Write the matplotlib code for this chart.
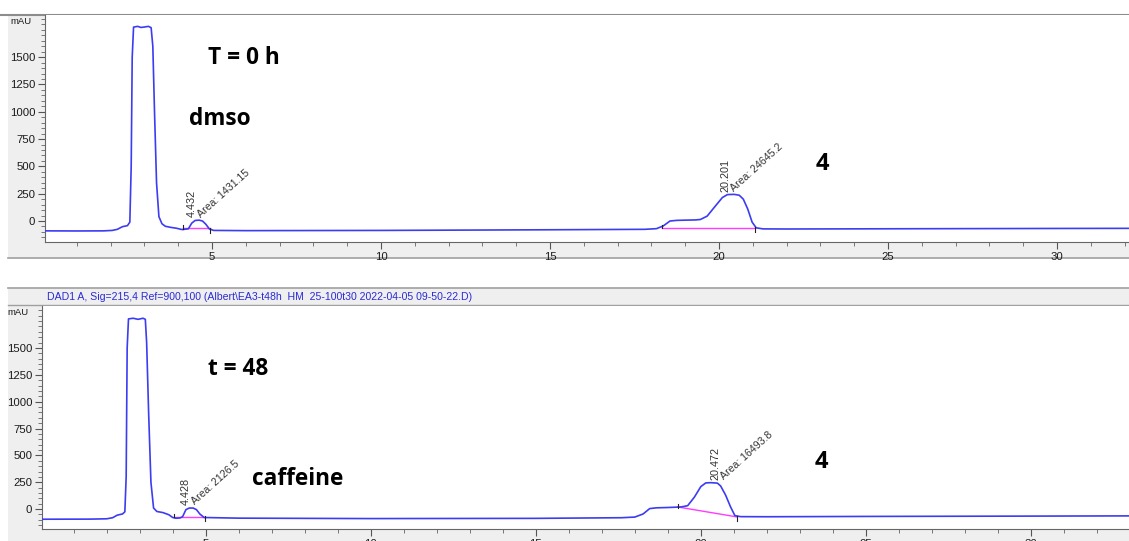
import matplotlib
matplotlib.use("Agg")
import matplotlib.pyplot as plt
from matplotlib.ticker import MultipleLocator, FixedLocator
from matplotlib.patches import Rectangle
from matplotlib.lines import Line2D

# ---------------- data ----------------
# upper run (T = 0 h): retention time [min] and signal [mAU]
top_time = [0.05, 1.0, 1.8, 2.05, 2.2, 2.35, 2.5, 2.57, 2.61, 2.64, 2.68, 2.8, 2.9, 3.0,
            3.12, 3.2, 3.25, 3.3, 3.36, 3.43, 3.52, 3.62, 3.78, 3.95, 4.08, 4.14, 4.22,
            4.3, 4.4, 4.5, 4.62, 4.72, 4.82, 4.92, 5.05, 6.0, 10.0, 15.0, 17.8, 18.15,
            18.35, 18.55, 18.75, 19.0, 19.3, 19.45, 19.65, 19.9, 20.1, 20.25, 20.45,
            20.6, 20.72, 20.85, 20.98, 21.1, 21.3, 22.0, 25.0, 30.0, 32.2]
top_mau = [-90, -91, -90, -86, -76, -52, -42, -10, 500, 1500, 1775, 1782, 1772, 1776,
           1782, 1770, 1600, 1000, 350, 40, -25, -48, -58, -66, -76, -78, -74,
           -72, -20, 5, 8, 0, -30, -72, -86, -88, -86, -80, -76, -70,
           -45, 0, 6, 8, 10, 14, 45, 140, 215, 242, 244,
           236, 200, 110, -10, -62, -72, -73, -71, -68, -67]

# lower run (t = 48): retention time [min] and signal [mAU]
bot_time = [0.04, 1.5, 2.0, 2.18, 2.32, 2.48, 2.55, 2.59, 2.62, 2.66, 2.8, 2.95, 3.1,
            3.17, 3.21, 3.27, 3.34, 3.42, 3.52, 3.7, 3.88, 4.0, 4.1, 4.22, 4.3, 4.4,
            4.5, 4.62, 4.72, 4.82, 4.95, 6.0, 10.0, 15.0, 17.6, 18.0, 18.25, 18.45,
            18.65, 19.0, 19.4, 19.6, 19.8, 20.0, 20.15, 20.3, 20.5, 20.6, 20.75, 20.9,
            21.03, 21.2, 22.0, 25.0, 30.0, 33.0]
bot_mau = [-94, -93, -90, -80, -56, -45, -25, 300, 1500, 1770, 1776, 1766, 1776,
           1766, 1550, 900, 250, 10, -22, -32, -52, -78, -85, -82, -70, -5,
           10, 10, -5, -45, -78, -84, -88, -86, -80, -74, -45, 5,
           12, 15, 20, 32, 110, 210, 244, 246, 242, 215, 130, 20,
           -60, -70, -71, -68, -65, -63]

# integrated peaks: (retention time, area, baseline start, baseline end)
top_rt = [4.432, 20.201]
top_area = [1431.15, 24645.2]
top_base_t = [(4.15, 4.95), (18.3, 21.07)]
top_base_y = [(-67, -67), (-60, -60)]

bot_rt = [4.428, 20.472]
bot_area = [2126.5, 16493.8]
bot_base_t = [(4.05, 4.97), (19.3, 21.1)]
bot_base_y = [(-72, -72), (20, -73)]

x_major = [5, 10, 15, 20, 25, 30]
y_major = [0, 250, 500, 750, 1000, 1250, 1500]

header = r"DAD1 A, Sig=215,4 Ref=900,100 (Albert\EA3-t48h  HM  25-100t30 2022-04-05 09-50-22.D)"

# ---------------- figure ----------------
W, H = 1129, 541
fig = plt.figure(figsize=(W / 100, H / 100), dpi=100)
fig.patch.set_facecolor("white")

def fx(px):
    return px / W

def fy(py):
    return 1 - py / H

def frame(x0, y0, x1, y1, color="#efefef"):
    fig.add_artist(Rectangle((fx(x0), fy(y1)), fx(x1) - fx(x0), fy(y0) - fy(y1),
                             transform=fig.transFigure, facecolor=color,
                             edgecolor="none", zorder=-2))

def hline(py, x0=8, x1=W, color="#9a9a9a", lw=1.2):
    fig.add_artist(Line2D([fx(x0), fx(x1)], [fy(py), fy(py)], transform=fig.transFigure,
                          color=color, lw=lw, zorder=-1))

# grey panel frames
frame(8, 15, W, 258)
frame(8, 288, W, H)
hline(15, 0, W, "#8c8c8c", 1.5)
hline(258, 8, W, "#a0a0a0", 1.2)
hline(288, 8, W, "#a0a0a0", 1.2)
hline(305, 8, W, "#a0a0a0", 1.0)

TRACE = "#3c3cf2"
PINK = "#ff3cff"
TXT = "#333333"
TICK_FONT = dict(family="Liberation Sans", size=8.2, color="#1a1a1a")


def style_axes(ax, xlim, ylim):
    ax.set_xlim(*xlim)
    ax.set_ylim(*ylim)
    ax.set_facecolor("white")
    for s in ("top", "right"):
        ax.spines[s].set_visible(False)
    ax.spines["left"].set_color("#666666")
    ax.spines["bottom"].set_color("#666666")
    ax.xaxis.set_major_locator(FixedLocator(x_major))
    ax.xaxis.set_minor_locator(MultipleLocator(1))
    ax.yaxis.set_major_locator(FixedLocator(y_major))
    ax.yaxis.set_minor_locator(MultipleLocator(50))
    ax.tick_params(axis="both", which="major", length=5, width=0.8, color="#555555",
                   pad=2)
    ax.tick_params(axis="both", which="minor", length=3, width=0.7, color="#777777")
    for lab in ax.get_xticklabels() + ax.get_yticklabels():
        lab.set_fontfamily(TICK_FONT["family"])
        lab.set_fontsize(TICK_FONT["size"])
        lab.set_color(TICK_FONT["color"])
    ax.text(-0.012, 0.97, "mAU", transform=ax.transAxes, ha="right", va="center",
            fontsize=6.8, family="Liberation Sans", color="#1a1a1a")


def draw_run(ax, t, y, rts, areas, base_t, base_y):
    ax.plot(t, y, color=TRACE, lw=1.2, zorder=3)
    for (t0, t1), (b0, b1) in zip(base_t, base_y):
        ax.plot([t0, t1], [b0, b1], color=PINK, lw=1.0, zorder=2)
        ax.plot([t0, t0], [b0 - 5, b0 + 28], color="#222222", lw=0.8, zorder=4)
        ax.plot([t1, t1], [b1 + 5, b1 - 40], color="#222222", lw=0.8, zorder=4)
    for rt, area in zip(rts, areas):
        # apex height at the retention time
        top = max(v for tt, v in zip(t, y) if abs(tt - rt) < 0.35)
        ax.text(rt - 0.02, top + 25, f"{rt:.3f}", rotation=90, ha="center", va="bottom",
                fontsize=7.8, family="Liberation Sans", color=TXT, zorder=5)
        ax.text(rt + 0.08, top + 10, f"Area: {area:g}", rotation=42, ha="left",
                va="bottom", fontsize=7.6, family="Liberation Sans", color=TXT, zorder=5)


# upper panel
ax1 = fig.add_axes([fx(45), fy(242), fx(W) - fx(45), fy(15) - fy(242)])
style_axes(ax1, (0.06, 32.13), (-192, 1886))
draw_run(ax1, top_time, top_mau, top_rt, top_area, top_base_t, top_base_y)

# lower panel
ax2 = fig.add_axes([fx(42), fy(529), fx(W) - fx(42), fy(306) - fy(529)])
style_axes(ax2, (0.04, 32.97), (-185, 1890))
draw_run(ax2, bot_time, bot_mau, bot_rt, bot_area, bot_base_t, bot_base_y)

fig.text(fx(47), fy(296.5), header, ha="left", va="center", fontsize=7.6,
         family="Liberation Sans", color="#2a2ad8")

# sample labels
BIG = dict(family="Open Sans", weight="bold", color="black", ha="center", va="center")
fig.text(fx(244), fy(58), "T = 0 h", fontsize=16.3, **BIG)
fig.text(fx(220), fy(119), "dmso", fontsize=16.3, **BIG)
fig.text(fx(822), fy(164), "4", fontsize=17, **BIG)
fig.text(fx(238), fy(369), "t = 48", fontsize=16.3, **BIG)
fig.text(fx(298), fy(479), "caffeine", fontsize=16.3, **BIG)
fig.text(fx(821), fy(462), "4", fontsize=17, **BIG)

fig.savefig("out.png", dpi=100)
